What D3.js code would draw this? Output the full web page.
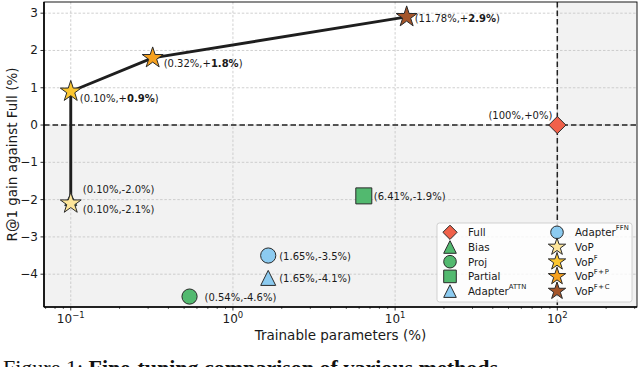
<!DOCTYPE html>
<html><head><meta charset="utf-8">
<script src="https://cdn.jsdelivr.net/npm/d3@7"></script>
<style>body{margin:0;background:#fff}svg{display:block}</style>
</head><body>
<svg id="c" width="640" height="367"></svg>
<script>
// ---- data ----
const methods   = ["Full","Bias","Proj","Partial","Adapter^ATTN","Adapter^FFN","VoP","VoP^F","VoP^F+P","VoP^F+C"];
const params    = [100, 0.10, 0.54, 6.41, 1.65, 1.65, 0.10, 0.10, 0.32, 11.78];
const gains     = [0, -2.0, -4.6, -1.9, -4.1, -3.5, -2.1, 0.9, 1.8, 2.9];
const paramText = ["100%","0.10%","0.54%","6.41%","1.65%","1.65%","0.10%","0.10%","0.32%","11.78%"];
const gainText  = ["+0%","-2.0%","-4.6%","-1.9%","-4.1%","-3.5%","-2.1%","+0.9%","+1.8%","+2.9%"];
const boldGain  = [false,false,false,false,false,false,false,true,true,true];
const frontier  = ["VoP","VoP^F","VoP^F+P","VoP^F+C"];
const xTicks    = [0.1, 1, 10, 100];
const xTickExp  = ["\u22121","0","1","2"];
const yTicks    = [-4,-3,-2,-1,0,1,2,3];
const xLabel = "Trainable parameters (%)";
const yLabel = "R@1 gain against Full (%)";
const caption = ["Figure 1: ", "Fine-tuning comparison of various methods"];

// ---- styles ----
const shapes = {"Full":"D","Bias":"^","Proj":"o","Partial":"s","Adapter^ATTN":"^","Adapter^FFN":"o","VoP":"*","VoP^F":"*","VoP^F+P":"*","VoP^F+C":"*"};
const colors = {"Full":"#f0614a","Bias":"#52b96f","Proj":"#52b96f","Partial":"#52b96f","Adapter^ATTN":"#8ccbf0","Adapter^FFN":"#8ccbf0","VoP":"#fde59a","VoP^F":"#fbc631","VoP^F+P":"#f6a11f","VoP^F+C":"#a4552a"};
const labelPos = {"Full":[-5,-9.5,"end"],"Bias":[12,-10,"start"],"Proj":[15,1,"start"],"Partial":[10,1,"start"],
  "Adapter^ATTN":[11,1,"start"],"Adapter^FFN":[11,1,"start"],"VoP":[12,6,"start"],"VoP^F":[9,6.5,"start"],
  "VoP^F+P":[11,5,"start"],"VoP^F+C":[8,1,"start"]};

const FONT = "DejaVu Sans, sans-serif";
const svg = d3.select("#c");
const L=44, R=637, T=2, B=307;
const x = d3.scaleLog().domain([0.0684, 310]).range([L, R]);
const y = d3.scaleLinear().domain([-4.88, 3.3]).range([B, T]);

function starPath(Ro){
  const ri = Ro*0.382; let p=[];
  for(let i=0;i<10;i++){const r=i%2?ri:Ro; const a=-Math.PI/2+i*Math.PI/5; p.push([r*Math.cos(a), r*Math.sin(a)]);}
  return "M"+p.map(q=>q[0].toFixed(2)+","+q[1].toFixed(2)).join("L")+"Z";
}
function markerPath(shape, s){
  if(shape==="o") return `M${s},0A${s},${s} 0 1,1 ${-s},0A${s},${s} 0 1,1 ${s},0Z`;
  if(shape==="s") return `M${-s},${-s}H${s}V${s}H${-s}Z`;
  if(shape==="D") return `M0,${-s*1.13}L${s*1.13},0L0,${s*1.13}L${-s*1.13},0Z`;
  if(shape==="^") return `M0,${-s}L${s},${s}L${-s},${s}Z`;
  if(shape==="*") return starPath(s*1.45);
}

// background shading
svg.append("rect").attr("x",L).attr("y",T).attr("width",R-L).attr("height",B-T).attr("fill","#fff");
svg.append("rect").attr("x",L).attr("y",y(0)).attr("width",R-L).attr("height",B-y(0)).attr("fill","#f2f2f2");
svg.append("rect").attr("x",x(100)).attr("y",T).attr("width",R-x(100)).attr("height",y(0)-T).attr("fill","#f2f2f2");

// grid
const g = svg.append("g");
xTicks.forEach(t=>g.append("line").attr("x1",x(t)).attr("x2",x(t)).attr("y1",T).attr("y2",B)
  .attr("stroke","#c4c4c4").attr("stroke-width",0.8).attr("stroke-dasharray","2.5,1.8"));
yTicks.forEach(t=>g.append("line").attr("x1",L).attr("x2",R).attr("y1",y(t)).attr("y2",y(t))
  .attr("stroke","#c4c4c4").attr("stroke-width",0.8).attr("stroke-dasharray","2.5,1.8"));

// reference dashed lines
svg.append("line").attr("x1",L).attr("x2",R).attr("y1",y(0)).attr("y2",y(0))
  .attr("stroke","#222").attr("stroke-width",1.5).attr("stroke-dasharray","5.5,3");
svg.append("line").attr("x1",x(100)).attr("x2",x(100)).attr("y1",T).attr("y2",B)
  .attr("stroke","#222").attr("stroke-width",1.5).attr("stroke-dasharray","5.5,3");

// frontier line
const fIdx = frontier.map(m=>methods.indexOf(m));
svg.append("path").attr("d", d3.line().x(i=>x(params[i])).y(i=>y(gains[i]))(fIdx))
  .attr("fill","none").attr("stroke","#1e1e1e").attr("stroke-width",2.9).attr("stroke-linejoin","round");

// markers
const order = [1,2,3,4,5,0,6,7,8,9];
order.forEach(i=>{
  const m = methods[i], sh = shapes[m];
  const s = sh==="*" ? 7.6 : sh==="D" ? 7.6 : sh==="^" ? 7.5 : sh==="s" ? 8 : 7.6;
  svg.append("path").attr("d", markerPath(sh, m==="Bias"?6:s))
    .attr("transform",`translate(${x(params[i])},${y(gains[i])})`)
    .attr("fill",colors[m]).attr("stroke","#2a2a2a").attr("stroke-width",1);
});

// value labels
methods.forEach((m,i)=>{
  const [dx,dy,anc] = labelPos[m];
  const t = svg.append("text").attr("x",x(params[i])+dx).attr("y",y(gains[i])+dy)
    .attr("dominant-baseline","central").attr("text-anchor",anc)
    .attr("font-family",FONT).attr("font-size",10).attr("fill","#1a1a1a");
  const sign = gainText[i].startsWith("+")?"+":"";
  if(boldGain[i]){
    t.append("tspan").text(`(${paramText[i]},${sign}`);
    t.append("tspan").attr("font-weight","bold").text(gainText[i].replace("+",""));
    t.append("tspan").text(")");
  } else t.text(`(${paramText[i]},${gainText[i]})`);
});

// axes ticks
const ax = svg.append("g");
xTicks.forEach((t,k)=>{
  ax.append("line").attr("x1",x(t)).attr("x2",x(t)).attr("y1",B).attr("y2",B+3.5).attr("stroke","#000").attr("stroke-width",0.8);
  const tx = ax.append("text").attr("x",x(t)).attr("y",B+15.5).attr("text-anchor","middle")
    .attr("font-family",FONT).attr("font-size",12).attr("fill","#1a1a1a");
  tx.append("tspan").text("10");
  tx.append("tspan").attr("dy",-5).attr("font-size",8.5).text(xTickExp[k]);
});
const minor = [];
[0.01,0.1,1,10,100].forEach(d=>{for(let k=2;k<10;k++){const v=d*k; if(v>x.domain()[0]&&v<x.domain()[1]) minor.push(v);}});
minor.forEach(v=>ax.append("line").attr("x1",x(v)).attr("x2",x(v)).attr("y1",B).attr("y2",B+2).attr("stroke","#000").attr("stroke-width",0.6));
yTicks.forEach(t=>{
  ax.append("line").attr("x1",L-3.5).attr("x2",L).attr("y1",y(t)).attr("y2",y(t)).attr("stroke","#000").attr("stroke-width",0.8);
  ax.append("text").attr("x",L-6).attr("y",y(t)).attr("dominant-baseline","central").attr("text-anchor","end")
    .attr("font-family",FONT).attr("font-size",12).attr("fill","#1a1a1a").text(t<0?"\u2212"+(-t):t);
});

// spines
svg.append("rect").attr("x",L).attr("y",T).attr("width",R-L).attr("height",B-T)
  .attr("fill","none").attr("stroke","#000").attr("stroke-width",0.9);
svg.append("line").attr("x1",L).attr("x2",L).attr("y1",T).attr("y2",B).attr("stroke","#000").attr("stroke-width",1.6);
svg.append("line").attr("x1",L).attr("x2",R).attr("y1",B).attr("y2",B).attr("stroke","#000").attr("stroke-width",1.6);

// axis labels
svg.append("text").attr("x",(L+R)/2).attr("y",335).attr("dominant-baseline","central").attr("text-anchor","middle")
  .attr("font-family",FONT).attr("font-size",13.5).attr("fill","#1a1a1a").text(xLabel);
svg.append("text").attr("transform",`translate(12,${(T+B)/2}) rotate(-90)`).attr("dominant-baseline","central")
  .attr("text-anchor","middle").attr("font-family",FONT).attr("font-size",13.5).attr("fill","#1a1a1a").text(yLabel);

// legend
const lg = svg.append("g");
lg.append("rect").attr("x",437).attr("y",223).attr("width",195).attr("height",79).attr("rx",2.5)
  .attr("fill","#fff").attr("fill-opacity",0.8).attr("stroke","#cccccc").attr("stroke-width",0.9);
methods.forEach((m,i)=>{
  const col = i<5?0:1, row = i%5;
  const mx = col?557:450, my = 232.3 + row*14.7;
  const sh = shapes[m];
  lg.append("path").attr("d", markerPath(sh, 6.3))
    .attr("transform",`translate(${mx},${my})`).attr("fill",colors[m]).attr("stroke","#2a2a2a").attr("stroke-width",1);
  const [base,sup] = m.split("^");
  const t = lg.append("text").attr("x",mx+18).attr("y",my).attr("dominant-baseline","central")
    .attr("font-family",FONT).attr("font-size",10.3).attr("fill","#1a1a1a");
  t.append("tspan").text(base);
  if(sup){ t.append("tspan").attr("dy",-4).attr("font-size",6.8).text(sup.replace("+","\u200a+\u200a")); }
});

// caption (cut off at the bottom edge, as in the reference)
const cap = svg.append("text").attr("x",3).attr("y",375).attr("font-family","Liberation Serif, serif").attr("font-size",22).attr("fill","#111");
cap.append("tspan").text(caption[0]);
cap.append("tspan").attr("font-weight","bold").text(caption[1]);
</script>
</body></html>
